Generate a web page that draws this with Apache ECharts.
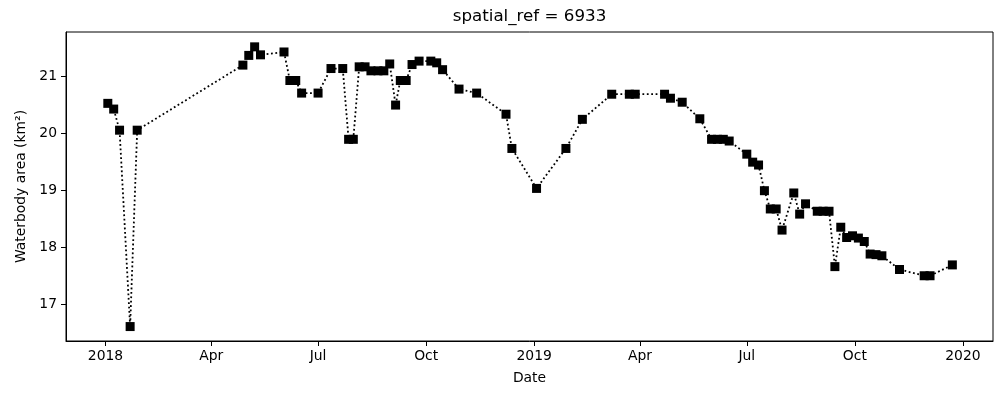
<!DOCTYPE html>
<html>
<head>
<meta charset="utf-8">
<script src="https://cdn.jsdelivr.net/npm/echarts@6/dist/echarts.min.js"></script>
<style>
  html, body { margin: 0; padding: 0; background: #fff; }
  #chart { width: 1004px; height: 393px; }
</style>
</head>
<body>
<div id="chart"></div>
<script>
// ---- Data ----
const titleText = 'spatial_ref = 6933';
const xAxisName = 'Date';
const yAxisName = 'Waterbody area (km²)';

const dates = [
  '2018-01-03','2018-01-08','2018-01-13','2018-01-22','2018-01-28',
  '2018-04-28','2018-05-03','2018-05-08','2018-05-13',
  '2018-06-02','2018-06-07','2018-06-12','2018-06-17',
  '2018-07-01','2018-07-12','2018-07-22','2018-07-27','2018-07-31',
  '2018-08-05','2018-08-10','2018-08-15','2018-08-21','2018-08-26','2018-08-31',
  '2018-09-05','2018-09-09','2018-09-14','2018-09-19','2018-09-25',
  '2018-10-05','2018-10-10','2018-10-15','2018-10-29',
  '2018-11-13','2018-12-08','2018-12-13',
  '2019-01-03','2019-01-28','2019-02-11',
  '2019-03-08','2019-03-23','2019-03-28',
  '2019-04-22','2019-04-27','2019-05-07','2019-05-22',
  '2019-06-01','2019-06-06','2019-06-11','2019-06-16',
  '2019-07-01','2019-07-06','2019-07-11','2019-07-16','2019-07-21','2019-07-26','2019-07-31',
  '2019-08-10','2019-08-15','2019-08-20','2019-08-30',
  '2019-09-04','2019-09-09','2019-09-14','2019-09-19','2019-09-24','2019-09-29',
  '2019-10-04','2019-10-09','2019-10-14','2019-10-19','2019-10-24',
  '2019-11-08','2019-11-29','2019-12-04','2019-12-23'
];

const areas = [
  20.52, 20.42, 20.05, 16.61, 20.05,
  21.19, 21.36, 21.51, 21.37,
  21.42, 20.92, 20.92, 20.70,
  20.70, 21.13, 21.13, 19.89, 19.89,
  21.16, 21.16, 21.09, 21.09, 21.09, 21.21,
  20.49, 20.92, 20.92, 21.20, 21.26,
  21.26, 21.23, 21.11, 20.77,
  20.70, 20.33, 19.73,
  19.03, 19.73, 20.24,
  20.68, 20.68, 20.68,
  20.68, 20.61, 20.54, 20.25,
  19.89, 19.89, 19.89, 19.86,
  19.63, 19.49, 19.44, 18.99, 18.67, 18.67, 18.30,
  18.95, 18.58, 18.76, 18.63,
  18.63, 18.63, 17.66, 18.35, 18.17, 18.20,
  18.16, 18.10, 17.88, 17.87, 17.85,
  17.61, 17.50, 17.50, 17.69
];

const xTickDates  = ['2018-01-01','2018-04-01','2018-07-01','2018-10-01','2019-01-01','2019-04-01','2019-07-01','2019-10-01','2020-01-01'];
const xTickLabels = ['2018','Apr','Jul','Oct','2019','Apr','Jul','Oct','2020'];
const yTicks = [17, 18, 19, 20, 21];

// ---- Helpers ----
const DAY = 86400000;
function toMs(s) {
  const p = s.split('-').map(Number);
  return Date.UTC(p[0], p[1] - 1, p[2]);
}
const xTickMs = xTickDates.map(toMs);
const labelByMs = {};
xTickMs.forEach((t, i) => { labelByMs[t] = xTickLabels[i]; });
const seriesData = dates.map((d, i) => [toMs(d), areas[i]]);

const xMin = toMs('2018-01-01') - 33.6 * DAY;
const xMax = toMs('2020-01-01') + 25.6 * DAY;

const FONT = 'DejaVu Sans';
const chart = echarts.init(document.getElementById('chart'), null, { renderer: 'canvas' });
chart.setOption({
  animation: false,
  backgroundColor: '#ffffff',
  textStyle: { fontFamily: FONT },
  title: {
    text: titleText,
    left: 529.5,
    top: 7,
    padding: 0,
    textAlign: 'center',
    textStyle: { fontFamily: FONT, fontSize: 16.7, fontWeight: 'normal', color: '#000', lineHeight: 20 }
  },
  grid: {
    left: 66, right: 11, top: 32, bottom: 52,
    show: true, borderColor: '#000', borderWidth: 1, backgroundColor: 'transparent'
  },
  xAxis: {
    type: 'value',
    min: xMin,
    max: xMax,
    name: xAxisName,
    nameLocation: 'middle',
    nameGap: 30,
    nameTextStyle: { fontFamily: FONT, fontSize: 13.9, color: '#000' },
    axisLine: { show: true, lineStyle: { color: '#000', width: 1 } },
    axisTick: { show: true, length: 5, inside: false, lineStyle: { color: '#000', width: 1 }, customValues: xTickMs },
    axisLabel: {
      show: true, margin: 8, fontFamily: FONT, fontSize: 13.9, color: '#000',
      customValues: xTickMs,
      formatter: function (v) { return labelByMs[v] !== undefined ? labelByMs[v] : ''; }
    },
    splitLine: { show: false }
  },
  yAxis: {
    type: 'value',
    min: 16.357,
    max: 21.77,
    name: yAxisName,
    nameLocation: 'middle',
    nameGap: 38,
    nameRotate: 90,
    nameTextStyle: { fontFamily: FONT, fontSize: 13.9, color: '#000' },
    axisLine: { show: true, lineStyle: { color: '#000', width: 1 } },
    axisTick: { show: true, length: 5, inside: false, lineStyle: { color: '#000', width: 1 }, customValues: yTicks },
    axisLabel: {
      show: true, margin: 9, fontFamily: FONT, fontSize: 13.9, color: '#000',
      customValues: yTicks,
      formatter: function (v) { return String(v); }
    },
    splitLine: { show: false }
  },
  series: [{
    type: 'line',
    data: seriesData,
    symbol: 'rect',
    symbolSize: 9,
    showSymbol: true,
    showAllSymbol: true,
    itemStyle: { color: '#000', borderColor: '#000', borderWidth: 0 },
    lineStyle: { color: '#000', width: 1.8, type: [1.8, 2.6], cap: 'butt' },
    emphasis: { disabled: true },
    clip: false
  }]
});
</script>
</body>
</html>
